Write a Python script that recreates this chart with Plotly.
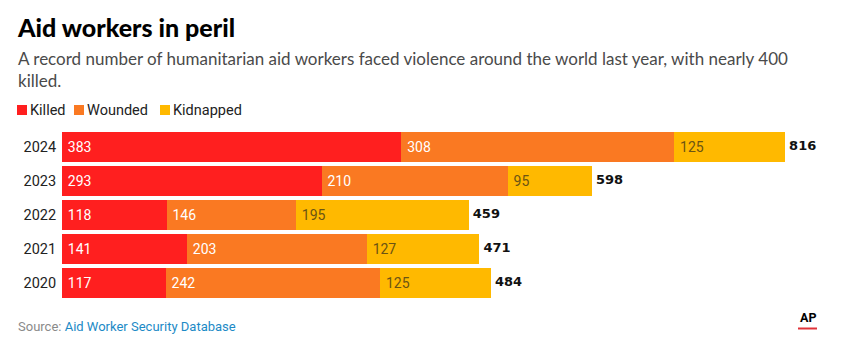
import plotly.graph_objects as go

years = ["2020", "2021", "2022", "2023", "2024"]
killed = [117, 141, 118, 293, 383]
wounded = [242, 203, 146, 210, 308]
kidnapped = [125, 127, 195, 95, 125]
series_names = ["Killed", "Wounded", "Kidnapped"]
colors = ["#FF1F1F", "#FA7922", "#FFB900"]
label_colors = ["#FFFFFF", "#FFFFFF", "#6B5414"]

W, H = 849, 356
OFF = 8  # page body margin offset
# plot area in page pixels: left 62, right 829, top 130, bottom 300
L, R, T, B = 62 - OFF, W - (829 - OFF), 130 - OFF, H - (300 - OFF)
PW, PH = 829 - 62, 300 - 130
SCALE = 0.886  # px per unit
xmax = PW / SCALE

def px(x):
    return (x - 62) / PW

def py(y):
    return (300 - y) / PH

fig = go.Figure()
for name, vals, c, lc in zip(series_names, [killed, wounded, kidnapped], colors, label_colors):
    fig.add_trace(go.Bar(
        y=years, x=vals, name=name, orientation="h",
        marker=dict(color=c, line=dict(width=0)),
        text=["\u2009" + str(v) for v in vals], textposition="inside",
        insidetextanchor="start", textangle=0,
        textfont=dict(family="Roboto, Arial", size=14, color=lc),
        hoverinfo="skip", showlegend=False,
    ))

totals = [a + b + c for a, b, c in zip(killed, wounded, kidnapped)]
fig.add_trace(go.Scatter(
    y=years, x=totals, mode="text", text=["\u00a0<b>" + str(t) + "</b>" for t in totals],
    textposition="middle right", hoverinfo="skip", showlegend=False,
    textfont=dict(family="DejaVu Sans", size=13, color="#111"), cliponaxis=False,
))

annotations = []
# title / subtitle
annotations.append(dict(x=px(15), y=py(27), xref="paper", yref="paper", xanchor="left",
                        yanchor="middle", showarrow=False,
                        text="Aid workers in peril",
                        font=dict(family="Lato", size=25, color="#000", weight=900)))
annotations.append(dict(x=px(16), y=py(70), xref="paper", yref="paper", xanchor="left",
                        yanchor="middle", showarrow=False, align="left",
                        text="A record number of humanitarian aid workers faced violence around the world last year, with nearly 400<br>killed.",
                        font=dict(family="Lato", size=17, color="#4a4a4a")))

# legend (manual)
shapes = []
leg_x = [17, 74, 160]
for name, c, lx in zip(series_names, colors, leg_x):
    shapes.append(dict(type="rect", xref="paper", yref="paper",
                       x0=px(lx), x1=px(lx + 10), y0=py(115), y1=py(105),
                       fillcolor=c, line=dict(width=0)))
    annotations.append(dict(x=px(lx + 11), y=py(110), xref="paper", yref="paper",
                            xanchor="left", yanchor="middle", showarrow=False,
                            text=name, font=dict(family="Roboto", size=14.5, color="#222")))

# source
annotations.append(dict(x=px(16), y=py(326), xref="paper", yref="paper", xanchor="left",
                        yanchor="middle", showarrow=False,
                        text="Source: <span style='color:#1C8AC6'>Aid Worker Security Database</span>",
                        font=dict(family="Roboto", size=13, color="#8a8a8a")))
# AP logo
annotations.append(dict(x=px(808), y=py(317), xref="paper", yref="paper", xanchor="center",
                        yanchor="middle", showarrow=False, text="<b>AP</b>",
                        font=dict(family="Roboto", size=12.5, color="#000")))
shapes.append(dict(type="rect", xref="paper", yref="paper", x0=px(798), x1=px(817),
                   y0=py(329.5), y1=py(327.5), fillcolor="#E0333A", line=dict(width=0)))

fig.update_layout(
    width=W, height=H, margin=dict(l=L, r=R, t=T, b=B, autoexpand=False),
    paper_bgcolor="white", plot_bgcolor="white",
    barmode="stack", bargap=0.123,
    xaxis=dict(range=[0, xmax], autorange=False, showgrid=False, zeroline=False,
               showticklabels=False, ticks="", showline=False, fixedrange=True, automargin=False),
    yaxis=dict(type="category", categoryorder="array", categoryarray=years,
               range=[-0.5, len(years) - 0.5], autorange=False,
               showgrid=False, zeroline=False, ticks="outside", ticklen=2,
               tickcolor="rgba(0,0,0,0)", showline=False, automargin=False,
               tickfont=dict(family="Roboto", size=14.5, color="#222"), fixedrange=True),
    annotations=annotations, shapes=shapes,
)
fig.write_html("out.html")
